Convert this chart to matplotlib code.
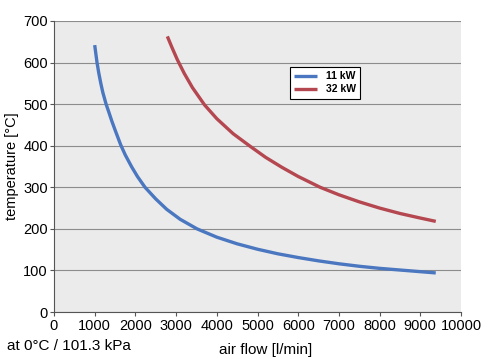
import matplotlib.pyplot as plt

plt.rcParams['font.family'] = ['Liberation Sans', 'DejaVu Sans']

# readings
flow_11 = [1000, 1057, 1100, 1150, 1200, 1280, 1350, 1418, 1500, 1639, 1750, 1909, 2050, 2236,
           2500, 2769, 3100, 3514, 4000, 4500, 5000, 5500, 6000, 6500, 7000, 7500, 8000,
           8500, 9000, 9380]
temp_11 = [642, 600, 575, 550, 528, 500, 480, 460, 438, 402, 378, 349, 326, 300,
           272, 247, 223, 200, 180, 164, 151, 140, 131, 123, 116, 110, 105,
           101, 97, 94]
flow_32 = [2785, 2900, 3030, 3200, 3400, 3700, 4000, 4400, 4800, 5200, 5600, 6000,
           6540, 7000, 7500, 8000, 8500, 9000, 9380]
temp_32 = [663, 636, 607, 574, 540, 498, 465, 429, 400, 372, 348, 326,
           300, 282, 265, 250, 237, 226, 218]
xticks = list(range(0, 10001, 1000))
yticks = list(range(0, 701, 100))

fig = plt.figure(figsize=(4.91, 3.59), dpi=100)
ax = fig.add_axes([54 / 491, 1 - 312 / 359, 407 / 491, 291 / 359])
ax.set_facecolor('#ebebeb')

ax.plot(flow_11, temp_11, color='#4a77c0', lw=2.4, label='11 kW', solid_capstyle='butt')
ax.plot(flow_32, temp_32, color='#b4474f', lw=2.4, label='32 kW', solid_capstyle='butt')

ax.set_xlim(0, 10000)
ax.set_ylim(0, 700)
ax.set_xticks(xticks)
ax.set_yticks(yticks)
ax.tick_params(labelsize=10.5, length=3, width=0.8, color='#555555', pad=2)
ax.tick_params(axis='y', pad=1.5)
ax.yaxis.grid(True, color='#8c8c8c', lw=0.8)
ax.set_axisbelow(True)
for s in ['top', 'right']:
    ax.spines[s].set_visible(False)
for s in ['left', 'bottom']:
    ax.spines[s].set_color('#555555')
    ax.spines[s].set_linewidth(0.8)

ax.set_ylabel('temperature [°C]', fontsize=10.5, labelpad=3)
ax.set_xlabel('air flow [l/min]', fontsize=11, labelpad=7, x=0.52)
fig.text(7 / 491, 1 - 346 / 359, 'at 0°C / 101.3 kPa', fontsize=11, va='center')

leg = ax.legend(loc='upper left', bbox_to_anchor=(231 / 407, 1 - 41 / 291),
                prop={'weight': 'bold', 'size': 7.5}, handlelength=2.2, fancybox=False,
                framealpha=1, edgecolor='black', borderpad=0.4, labelspacing=0.3)
leg.get_frame().set_linewidth(0.8)

fig.savefig('out.png', dpi=100)
